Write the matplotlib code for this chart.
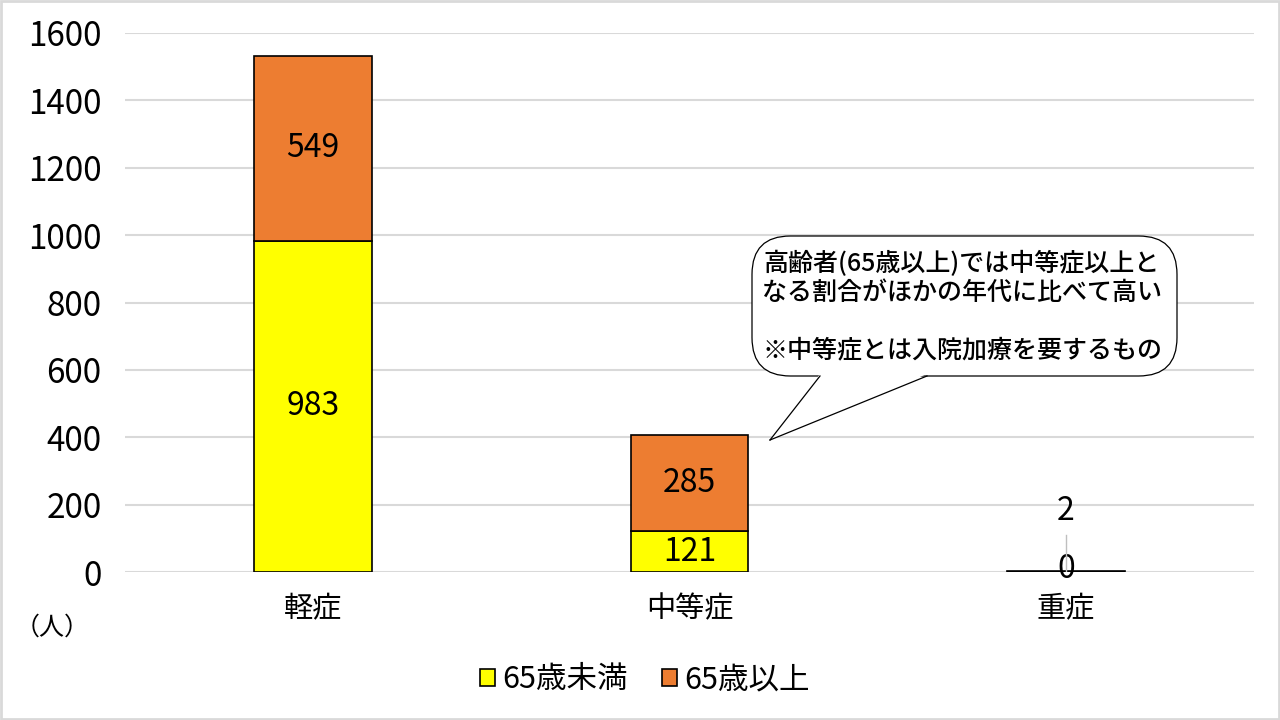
import numpy as np
import matplotlib
matplotlib.use("Agg")
import matplotlib.pyplot as plt
from matplotlib.patches import FancyBboxPatch, Polygon, Rectangle
from matplotlib.lines import Line2D

plt.rcParams['font.family'] = ['Noto Sans CJK JP', 'DejaVu Sans']

categories = ['軽症', '中等症', '重症']
under65 = [983, 121, 0]
over65 = [549, 285, 2]
series_names = ['65歳未満', '65歳以上']
yticks = [0, 200, 400, 600, 800, 1000, 1200, 1400, 1600]
note_text = '高齢者(65歳以上)では中等症以上と\nなる割合がほかの年代に比べて高い\n\n※中等症とは入院加療を要するもの'

W, H = 1280, 720
fig = plt.figure(figsize=(W / 100, H / 100), dpi=100)

def fx(px):
    return px / W

def fy(py):
    return 1 - py / H

ax = fig.add_axes([fx(125), fy(572), fx(1254) - fx(125), fy(33) - fy(572)])
x = np.arange(len(categories))
width = 0.313
b1 = ax.bar(x, under65, width, color='#FFFF00', edgecolor='black', linewidth=1.2,
            label=series_names[0], zorder=3)
b2 = ax.bar(x, over65, width, bottom=under65, color='#ED7D31', edgecolor='black',
            linewidth=1.2, label=series_names[1], zorder=3)

# value labels
for i in range(len(categories)):
    if under65[i] + over65[i] > 50:
        ax.text(x[i], under65[i] / 2, str(under65[i]), ha='center', va='center',
                fontsize=23, zorder=4)
        ax.text(x[i], under65[i] + over65[i] / 2, str(over65[i]), ha='center',
                va='center', fontsize=23, zorder=4)
    else:
        ax.text(x[i], under65[i] + 10, str(under65[i]), ha='center', va='center',
                fontsize=23, zorder=4)
        ax.text(x[i], under65[i] + over65[i] + 180, str(over65[i]), ha='center',
                va='center', fontsize=23, zorder=4)
        ax.plot([x[i], x[i]], [under65[i] + over65[i], 110], color='#BFBFBF',
                linewidth=1, zorder=4)

ax.set_xlim(-0.5, 2.5)
ax.set_ylim(0, 1600)
ax.set_yticks(yticks)
ax.set_xticks(x)
ax.set_xticklabels(categories)
ax.tick_params(axis='y', length=0, labelsize=24, pad=17)
ax.tick_params(axis='x', length=0, labelsize=21, pad=16)
ax.grid(axis='y', color='#D9D9D9', linewidth=1.5, zorder=0)
for s in ax.spines.values():
    s.set_visible(False)

fig.text(fx(52), fy(628), '（人）', ha='center', va='center', fontsize=18)

leg = fig.legend(handles=[b1, b2], labels=series_names, loc='center',
                 bbox_to_anchor=(fx(645), fy(680)), ncol=2, frameon=False,
                 fontsize=22, handlelength=0.5, handleheight=0.5,
                 handletextpad=0.25, columnspacing=1.1)

# callout
box = FancyBboxPatch((fx(752), fy(376)), fx(1177) - fx(752), fy(236) - fy(376),
                     boxstyle='round,pad=0,rounding_size=0.03',
                     transform=fig.transFigure, facecolor='white',
                     edgecolor='black', linewidth=0.9, zorder=5,
                     mutation_aspect=W / H)
fig.patches.append(box)
tail = Polygon([(fx(820), fy(374)), (fx(770), fy(440)), (fx(927), fy(374))],
               closed=True, transform=fig.transFigure, facecolor='white',
               edgecolor='none', zorder=6)
fig.patches.append(tail)
for (xa, ya), (xb, yb) in [((820, 376), (770, 440)), ((770, 440), (927, 376))]:
    fig.add_artist(Line2D([fx(xa), fx(xb)], [fy(ya), fy(yb)], color='black',
                          linewidth=0.9, transform=fig.transFigure, zorder=7))
fig.text(fx(962), fy(307), note_text, ha='center', va='center', fontsize=18,
         fontweight='medium', linespacing=1.15, zorder=8)

# outer frame
fig.patches.append(Rectangle((0.001, 0.001), 0.998, 0.997, transform=fig.transFigure,
                             fill=False, edgecolor='#D9D9D9', linewidth=2))

fig.savefig('out.png', dpi=100)
